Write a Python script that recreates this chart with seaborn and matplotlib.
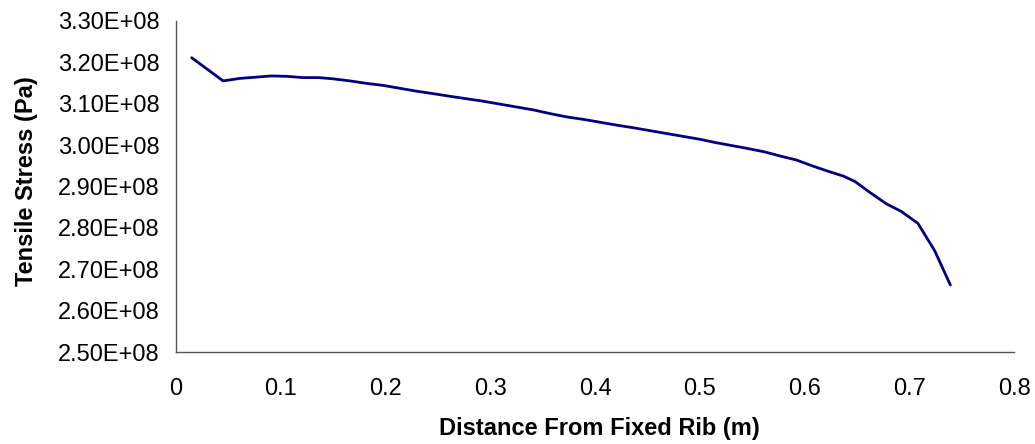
import matplotlib
matplotlib.use("Agg")
import matplotlib.pyplot as plt
import matplotlib.ticker as mticker
import seaborn as sns
import pandas as pd

distance_m = [0.015, 0.045, 0.061, 0.076, 0.091, 0.106, 0.121, 0.136, 0.150, 0.166,
              0.182, 0.198, 0.214, 0.230, 0.246, 0.261, 0.277, 0.293, 0.309, 0.325,
              0.341, 0.357, 0.373, 0.389, 0.405, 0.421, 0.436, 0.452, 0.468, 0.484,
              0.500, 0.515, 0.530, 0.545, 0.561, 0.576, 0.592, 0.607, 0.622, 0.637,
              0.648, 0.662, 0.678, 0.692, 0.708, 0.724, 0.739]
stress_pa_e8 = [3.211, 3.155, 3.161, 3.164, 3.167, 3.166, 3.163, 3.163, 3.160, 3.155,
                3.149, 3.144, 3.137, 3.130, 3.124, 3.118, 3.112, 3.106, 3.099, 3.092,
                3.085, 3.076, 3.068, 3.062, 3.055, 3.048, 3.042, 3.035, 3.028, 3.021,
                3.014, 3.006, 2.999, 2.992, 2.984, 2.974, 2.964, 2.950, 2.937, 2.925,
                2.912, 2.886, 2.858, 2.840, 2.811, 2.745, 2.662]

df = pd.DataFrame({"x": distance_m, "y": [v * 1e8 for v in stress_pa_e8]})

sns.set_style("white")
plt.rcParams["font.family"] = ["Liberation Sans", "DejaVu Sans"]

fig = plt.figure(figsize=(10.35, 4.44), dpi=100)
ax = fig.add_axes([0.170, 0.207, 0.810, 0.746])

sns.lineplot(data=df, x="x", y="y", ax=ax, color="#000080", linewidth=2.0,
             estimator=None, sort=False)

ax.set_xlim(0, 0.8)
ax.set_ylim(2.5e8, 3.3e8)
ax.xaxis.set_major_locator(mticker.MultipleLocator(0.1))
ax.yaxis.set_major_locator(mticker.MultipleLocator(0.1e8))
ax.xaxis.set_major_formatter(mticker.FuncFormatter(lambda v, p: f"{v:g}"))
ax.yaxis.set_major_formatter(mticker.FuncFormatter(lambda v, p: f"{v:.2E}"))

for s in ["top", "right"]:
    ax.spines[s].set_visible(False)
for s in ["left", "bottom"]:
    ax.spines[s].set_color("#555555")
    ax.spines[s].set_linewidth(1.0)

ax.tick_params(axis="both", direction="out", length=7, width=1.0, color="#555555",
               labelsize=17, labelcolor="black", pad=5)
ax.tick_params(axis="x", pad=12)
ax.grid(False)

ax.set_xlabel("Distance From Fixed Rib (m)", fontsize=17, fontweight="bold", color="black")
ax.set_ylabel("Tensile Stress (Pa)", fontsize=17, fontweight="bold", color="black")
ax.yaxis.set_label_coords(-0.164, 0.515)
ax.xaxis.set_label_coords(0.505, -0.195)

fig.savefig("out.png", dpi=100, facecolor="white")
